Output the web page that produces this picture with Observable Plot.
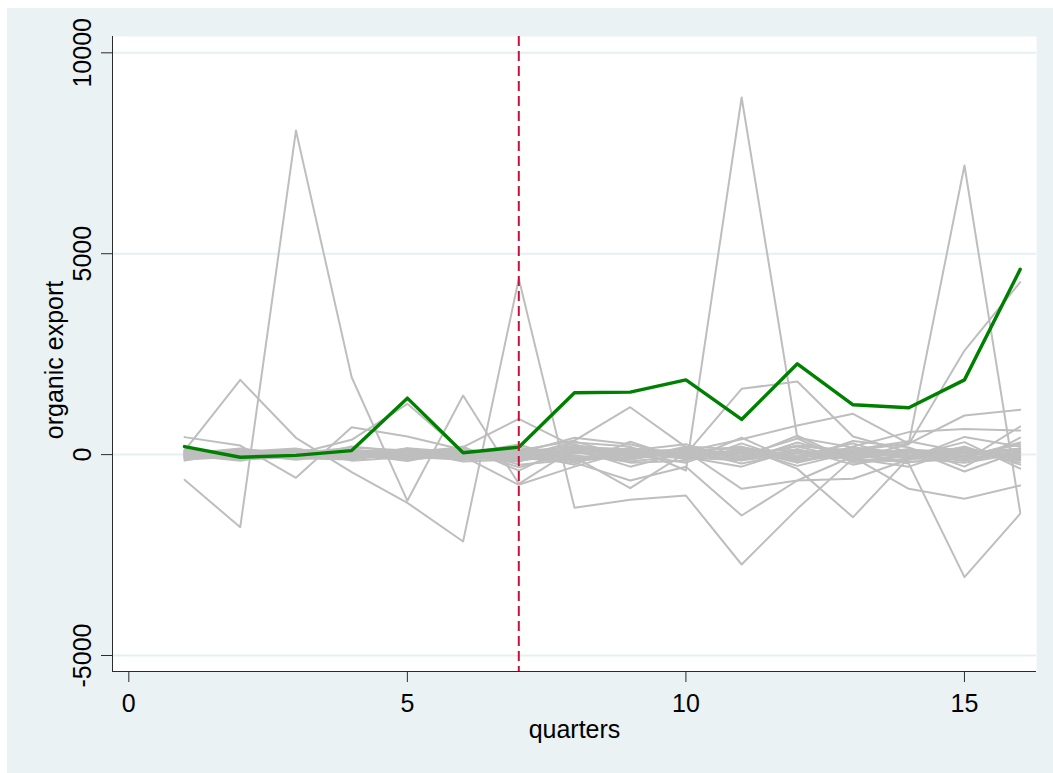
<!DOCTYPE html>
<html>
<head>
<meta charset="utf-8">
<script src="https://cdn.jsdelivr.net/npm/d3@7"></script>
<script src="https://cdn.jsdelivr.net/npm/@observablehq/plot@0.6"></script>
<style>
  html, body { margin: 0; padding: 0; background: #ffffff; }
  #bg { position: absolute; left: 7px; top: 8px; width: 1046px; height: 765px; background: #EAF2F3; }
  #chart { position: absolute; left: 0; top: 0; }
</style>
</head>
<body>
<div id="bg"></div>
<div id="chart"></div>
<script>
const quarters = [1, 2, 3, 4, 5, 6, 7, 8, 9, 10, 11, 12, 13, 14, 15, 16];
const xTicks = [0, 5, 10, 15];
const yTicks = [-5000, 0, 5000, 10000];
const treatmentQuarter = 7;
const xDomain = [-0.293, 16.293];
const yDomain = [-5398, 10406];

const treatedSeries = [200, -65, -20, 100, 1405, 45, 185, 1540, 1555, 1860, 875, 2260, 1240, 1165, 1860, 4610];

const controlSeries = [
  [-628, -1807, 8066, 1926, -1150, 1470, -727, 150, 80, -60, 120, -200, 90, 40, -150, 60],
  [100, 1860, 418, -437, -1200, -2163, 4375, -1325, -1125, -1018, -2735, -1350, -100, -300, 150, -80],
  [80, -30, -100, 200, 60, -40, -180, 300, 200, -396, 8888, 420, 180, -60, -120, 90],
  [-20, 60, -60, 120, 20, 80, 120, -90, 20, 150, -60, 220, 100, 275, 7195, -1433],
  [40, -20, 90, -60, -20, 120, -150, 30, 110, -40, 90, -60, 20, -222, -3050, -1470],
  [-60, 110, 20, 40, -90, 10, 60, 120, -40, 30, 60, 120, -100, 260, 2590, 4290],
  [10, 40, -110, 30, 90, -70, 20, 220, 90, 10, 1637, 1820, 450, 60, -80, 20],
  [30, -90, 60, 90, 20, 40, 90, 180, 140, 80, 380, 724, 1015, 275, 973, 1115],
  [-40, 90, -40, 10, 110, 20, 100, 350, 1180, 185, -120, 90, 20, 60, -40, 120],
  [60, 10, 80, -20, 60, 185, 890, 200, 30, -20, 50, -90, 140, -30, 80, -60],
  [435, 225, -578, 683, 450, 120, -313, 60, -120, 90, -852, -645, -40, 120, 60, -110],
  [-120, -50, 20, 368, 1264, 60, -80, -200, -645, -300, -1515, -645, -600, -120, 40, 150],
  [-80, 30, 120, -150, -60, -100, 180, -60, -835, 40, 200, -355, -1557, -80, -200, 30],
  [20, -130, -20, 60, 130, -40, -752, -300, 100, 260, -150, 300, -60, -852, -1100, -770],
  [-100, 0, 40, -100, 40, -130, 60, 90, -200, -150, 420, -200, 200, 560, 640, 600],
  [90, -60, -40, -30, -110, 80, -20, -160, 60, 110, -80, 470, -160, -40, 310, -350],
  [-30, 140, 10, -60, 70, -20, 40, 420, 260, -90, 30, -120, 340, 180, -300, 420],
  [50, -110, -70, 140, -140, 150, -250, -120, 170, -60, -300, 140, -250, 20, 120, -200],
  [-150, 70, 150, -110, 150, -60, 120, -40, -120, 200, 130, -280, 60, -190, -60, 300],
  [-10, -150, 60, 80, -30, 200, -400, 250, -60, 120, -220, 60, -40, 140, -420, 80],
  [120, 20, -130, 20, -160, 100, 30, -250, 320, -130, 160, -40, 280, -130, 200, -250],
  [-60, -20, 30, 180, 100, -170, -120, 140, -300, 60, -40, 200, -120, 90, -160, 700],
  [0, 80, -90, -120, 40, 30, 250, -180, 10, -200, 280, -180, 120, 330, 60, -40],
  [70, -70, 130, 40, -60, -120, -60, 330, -60, 160, -30, 400, -200, -100, 440, 200],
  [-20, 30, -50, 60, -40, 90, -110, 70, -90, 40, -70, 110, -50, 80, -30, 150],
  [50, -40, 20, -80, 60, -30, 80, -130, 60, -110, 90, -150, 70, -60, 120, -120],
  [-90, -80, 100, 20, -20, -60, -30, 40, 150, -80, -140, 30, -120, -180, -110, 60],
  [20, 150, -20, -40, 160, 50, -160, 160, -20, 70, 190, -60, 180, 40, 170, -150],
  [-50, -10, 60, 110, -130, -10, 110, -20, -170, -20, -100, 230, 40, -80, -20, 250],
  [30, 60, -10, -70, 10, 140, -50, -80, 40, 100, 40, -100, -80, 120, 20, -30]
];

const grayRows = controlSeries.flatMap((vals, id) => vals.map((v, i) => ({id, q: quarters[i], v})));
const greenRows = treatedSeries.map((v, i) => ({q: quarters[i], v}));

const fontSize = 25;
const axisColor = "#2b2b2b";

const chart = Plot.plot({
  width: 1053,
  height: 773,
  marginLeft: 112,
  marginRight: 17,
  marginTop: 36,
  marginBottom: 102,
  style: {background: "transparent", fontFamily: "'Liberation Sans', Arial, Helvetica, sans-serif", fontSize: "25px", color: "#000"},
  x: {domain: xDomain},
  y: {domain: yDomain},
  marks: [
    Plot.frame({fill: "white", stroke: "none"}),
    Plot.ruleY(yTicks, {stroke: "#E6EFF1", strokeWidth: 2}),
    Plot.line(grayRows, {x: "q", y: "v", z: "id", stroke: "#BEBEBE", strokeWidth: 2}),
    Plot.line(greenRows, {x: "q", y: "v", stroke: "#008000", strokeWidth: 3.4}),
    Plot.ruleX([treatmentQuarter], {stroke: "#C8103C", strokeWidth: 2, strokeDasharray: "10,5"}),
    Plot.ruleX([xDomain[0]], {stroke: axisColor, strokeWidth: 1}),
    Plot.ruleY([yDomain[0]], {stroke: axisColor, strokeWidth: 1}),
    Plot.axisY({ticks: yTicks, tickSize: 11, tickFormat: () => "", stroke: axisColor, label: null}),
    Plot.text(yTicks, {y: d => d, text: d => String(d), frameAnchor: "left", dx: -22, rotate: -90, textAnchor: "middle", lineAnchor: "bottom", fontSize, fill: "#000"}),
    Plot.axisX({ticks: xTicks, tickSize: 11, tickPadding: 12, fontSize, stroke: axisColor, fill: "#000", label: null}),
    Plot.text(["quarters"], {text: d => d, frameAnchor: "bottom", dy: 66, lineAnchor: "bottom", fontSize, fill: "#000"}),
    Plot.text(["organic export"], {text: d => d, frameAnchor: "left", dx: -50, dy: 6, rotate: -90, textAnchor: "middle", lineAnchor: "bottom", fontSize, fill: "#000"})
  ]
});
document.getElementById("chart").appendChild(chart);
</script>
</body>
</html>
